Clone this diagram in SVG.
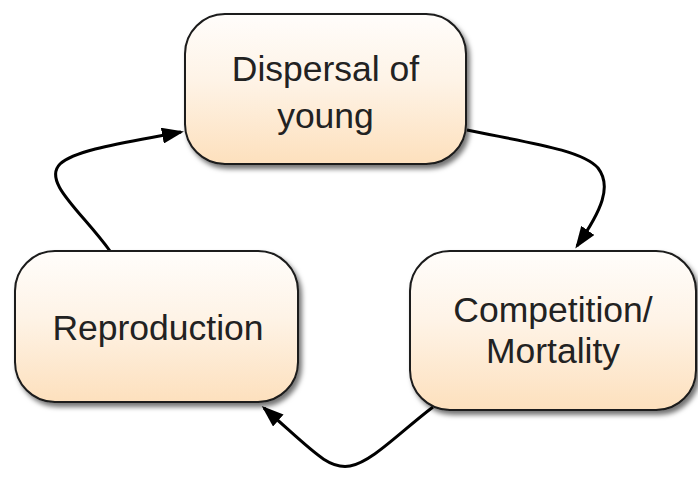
<svg xmlns="http://www.w3.org/2000/svg" width="698" height="482" viewBox="0 0 698 482">
<defs>
<linearGradient id="fill" x1="0" y1="0" x2="0" y2="1">
<stop offset="0" stop-color="#fffdfb"/>
<stop offset="0.45" stop-color="#fef3e6"/>
<stop offset="1" stop-color="#fde0bd"/>
</linearGradient>
<filter id="shadow" x="-10%" y="-10%" width="125%" height="130%">
<feDropShadow dx="3" dy="4" stdDeviation="2.5" flood-color="#000" flood-opacity="0.55"/>
</filter>
<marker id="arrow" markerUnits="userSpaceOnUse" markerWidth="22" markerHeight="16" refX="19" refY="8" orient="auto">
<path d="M0,0 L22,8 L0,16 z" fill="#000"/>
</marker>
</defs>
<style>
.box{fill:url(#fill);stroke:#1a1a1a;stroke-width:2;filter:url(#shadow)}
.label{font-family:"Liberation Sans",Arial,sans-serif;font-size:35.5px;fill:#222;text-anchor:middle}
.conn{fill:none;stroke:#000;stroke-width:3;marker-end:url(#arrow)}
</style>
<g id="connectors">
<path class="conn" d="M110,251 C82,212 42,182 60,164 C76,149 130,142 181,132"/>
<path class="conn" d="M467,130 C530,143 582,150 598,168 C612,186 602,210 577,246"/>
<path class="conn" d="M433,407 C400,432 372,462 350,466 C328,470 312,450 264,408"/>
</g>
<g id="dispersal">
<rect class="box" x="185" y="14" width="281" height="150" rx="40" ry="40"/>
<text class="label" x="325.5" y="81">Dispersal of</text>
<text class="label" x="325.5" y="128">young</text>
</g>
<g id="reproduction">
<rect class="box" x="15" y="251" width="283" height="151" rx="40" ry="40"/>
<text class="label" x="158" y="340">Reproduction</text>
</g>
<g id="competition">
<rect class="box" x="410" y="251" width="286" height="159" rx="40" ry="40"/>
<text class="label" x="553" y="322">Competition/</text>
<text class="label" x="553" y="363">Mortality</text>
</g>
</svg>
